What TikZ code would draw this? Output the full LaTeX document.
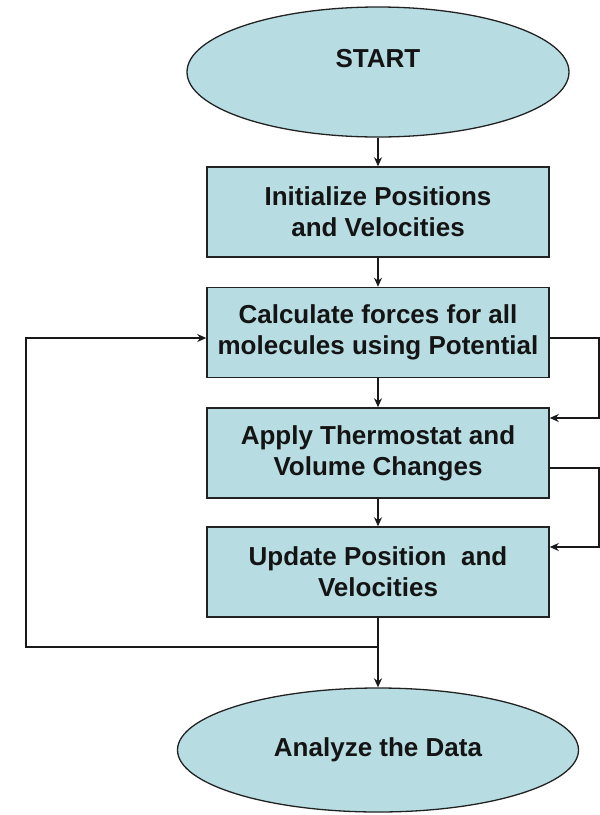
\documentclass[tikz,border=0pt]{standalone}
\usepackage{fontspec}
\setmainfont{Liberation Sans}
\usetikzlibrary{arrows.meta,shapes.geometric}
\definecolor{boxfill}{HTML}{B7DDE3}
\definecolor{edge}{HTML}{222222}
\begin{document}
\begin{tikzpicture}[x=1pt,y=-1pt,
  txt/.style={font=\fontsize{26}{31}\selectfont\bfseries, text=black!92},
  stepbox/.style={draw=edge, line width=1.5pt, fill=boxfill, minimum width=342pt, minimum height=90pt, align=center, inner sep=0pt, txt},
  term/.style={ellipse, draw=edge, line width=1.3pt, fill=boxfill, inner sep=0pt, txt},
  conn/.style={draw=black!90, line width=1.5pt},
  arr/.style={conn, -{Stealth[length=9pt,width=8pt]}}
]
\useasboundingbox (0,0) rectangle (600,815);
\node[term, minimum width=382pt, minimum height=130pt,
      label={[txt, yshift=13pt]center:START}] (start) at (378,72) {};
\node[stepbox] (init) at (378,212) {Initialize Positions\\and Velocities};
\node[stepbox] (calc) at (378,332.5) {Calculate forces for all\\molecules using Potential};
\node[stepbox] (thermo) at (378,453) {Apply Thermostat and\\Volume Changes};
\node[stepbox] (update) at (378,572) {Update Position\ \ and\\Velocities};
\node[term, minimum width=401pt, minimum height=124pt] (analyze) at (378,750) {Analyze the Data};

\coordinate (j) at (378,647);
\coordinate (lft) at (26,647);

\draw[arr] (start.south) -- (init.north);
\draw[arr] (init.south) -- (calc.north);
\draw[arr] (calc.south) -- (thermo.north);
\draw[arr] (thermo.south) -- (update.north);
\draw[arr] (update.south) -- (analyze.north);
\draw[arr] (j) -- (lft) |- ([yshift=-5.5pt]calc.west);
\draw[arr] ([yshift=-5.5pt]calc.east) -- ++(49,0) |- ([yshift=35pt]thermo.east);
\draw[arr] ([yshift=-15pt]thermo.east) -- ++(49,0) |- ([yshift=25pt]update.east);
\end{tikzpicture}
\end{document}
